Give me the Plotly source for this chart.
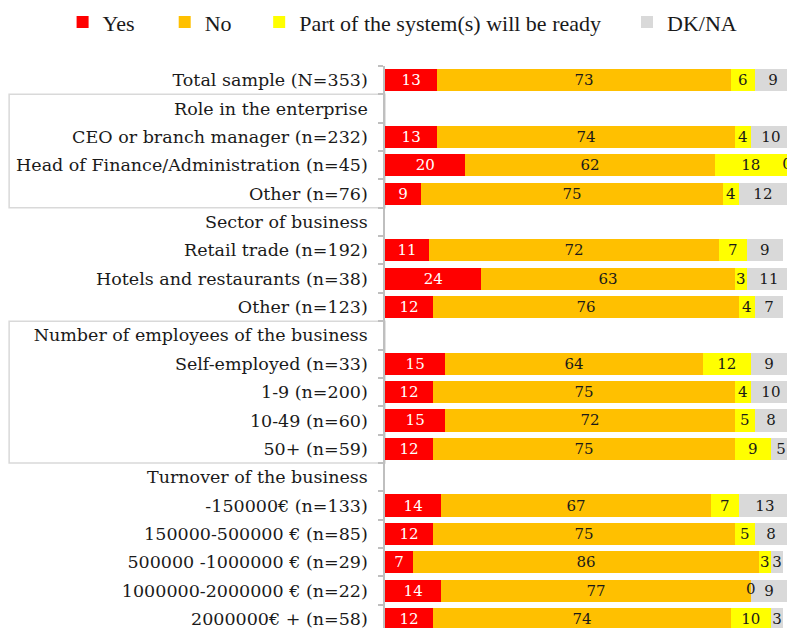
import plotly.graph_objects as go

# Row labels (top to bottom); group headers carry no bars
categories = [
    "Total sample (N=353)",
    "Role in the enterprise",
    "CEO or branch manager (n=232)",
    "Head of Finance/Administration (n=45)",
    "Other (n=76)",
    "Sector of business",
    "Retail trade (n=192)",
    "Hotels and restaurants (n=38)",
    "Other (n=123)",
    "Number of employees of the business",
    "Self-employed (n=33)",
    "1-9 (n=200)",
    "10-49 (n=60)",
    "50+ (n=59)",
    "Turnover of the business",
    "-150000€ (n=133)",
    "150000-500000 € (n=85)",
    "500000 -1000000 € (n=29)",
    "1000000-2000000 € (n=22)",
    "2000000€ + (n=58)",
]

yes = [13, None, 13, 20, 9, None, 11, 24, 12, None, 15, 12, 15, 12, None, 14, 12, 7, 14, 12]
no = [73, None, 74, 62, 75, None, 72, 63, 76, None, 64, 75, 72, 75, None, 67, 75, 86, 77, 74]
partly = [6, None, 4, 18, 4, None, 7, 3, 4, None, 12, 4, 5, 9, None, 7, 5, 3, 0, 10]
dkna = [9, None, 10, 0, 12, None, 9, 11, 7, None, 9, 10, 8, 5, None, 13, 8, 3, 9, 3]

series_names = ["Yes", "No", "Part of the system(s) will be ready", "DK/NA"]
series_values = [yes, no, partly, dkna]
series_colors = ["#FF0000", "#FFC000", "#FFFF00", "#D9D9D9"]
text_colors = ["#FFFFFF", "#1a1a1a", "#1a1a1a", "#1a1a1a"]

# Groups framed by a light box on the label side: (header, number of member rows)
boxed_groups = [("Role in the enterprise", 3), ("Number of employees of the business", 4)]

# Legend entries sit at their own positions along the top (paper x of each legend box)
legend_x = [-0.802, -0.548, -0.313, 0.602]

W, H = 787, 628
ML, MT = 385, 66

BAR_FONT = dict(family="DejaVu Serif", size=15)

fig = go.Figure()
for i, (name, vals, col, tcol) in enumerate(zip(series_names, series_values, series_colors, text_colors)):
    lg = "legend" if i == 0 else f"legend{i + 1}"
    fig.add_trace(go.Bar(
        y=categories,
        x=vals,
        name=name,
        orientation="h",
        marker=dict(color=col, line=dict(width=0)),
        text=[("" if v is None else str(v)) for v in vals],
        textposition="inside",
        insidetextanchor="middle",
        constraintext="none",
        textangle=0,
        textfont=dict(color=tcol, **BAR_FONT),
        cliponaxis=True,
        legend=lg,
        hoverinfo="skip",
    ))

# Zero-width segments still get their "0" label, placed where the segment starts
zx, zy, zt, zc = [], [], [], []
for r, cat in enumerate(categories):
    cum = 0
    for vals, tcol in zip(series_values, text_colors):
        v = vals[r]
        if v is None:
            continue
        if v == 0:
            zx.append(cum)
            zy.append(cat)
            zt.append(str(v))
            zc.append(tcol)
        cum += v
fig.add_trace(go.Scatter(
    x=zx, y=zy, text=zt, mode="text",
    textposition="middle center",
    textfont=dict(color=zc, **BAR_FONT),
    cliponaxis=True, showlegend=False, hoverinfo="skip",
))

shapes = []
for header, n in boxed_groups:
    start = categories.index(header)
    shapes.append(dict(
        type="rect", xref="paper", yref="y",
        x0=-0.935, x1=0, y0=start - 0.5, y1=start + n + 0.5,
        line=dict(color="#d9d9d9", width=1.5),
        fillcolor="rgba(0,0,0,0)", layer="below",
    ))

n_rows = len(categories)
layout_legends = {}
for i, lx in enumerate(legend_x):
    key = "legend" if i == 0 else f"legend{i + 1}"
    layout_legends[key] = dict(
        x=lx, xanchor="left", y=1.078, yanchor="middle",
        orientation="h", bgcolor="rgba(0,0,0,0)",
        font=dict(family="Liberation Serif", size=22, color="#1a1a1a"),
        itemwidth=30, traceorder="normal",
    )

fig.update_layout(
    width=W, height=H,
    margin=dict(l=ML, r=0, t=MT, b=0, pad=0),
    barmode="stack",
    bargap=0.22,
    plot_bgcolor="white",
    paper_bgcolor="white",
    showlegend=True,
    shapes=shapes,
    xaxis=dict(range=[0, 100], visible=False, fixedrange=True),
    yaxis=dict(
        type="category",
        categoryorder="array",
        categoryarray=categories,
        range=[n_rows - 0.68, -0.5],
        showline=True, linecolor="#bfbfbf", linewidth=1.5,
        ticks="outside", tickson="boundaries", ticklen=5, tickcolor="#bfbfbf", tickwidth=1.5,
        ticklabelstandoff=12,
        showgrid=False, zeroline=False,
        tickfont=dict(family="DejaVu Serif", size=17.5, color="#1a1a1a"),
    ),
    **layout_legends,
)

fig.write_html("out.html")
